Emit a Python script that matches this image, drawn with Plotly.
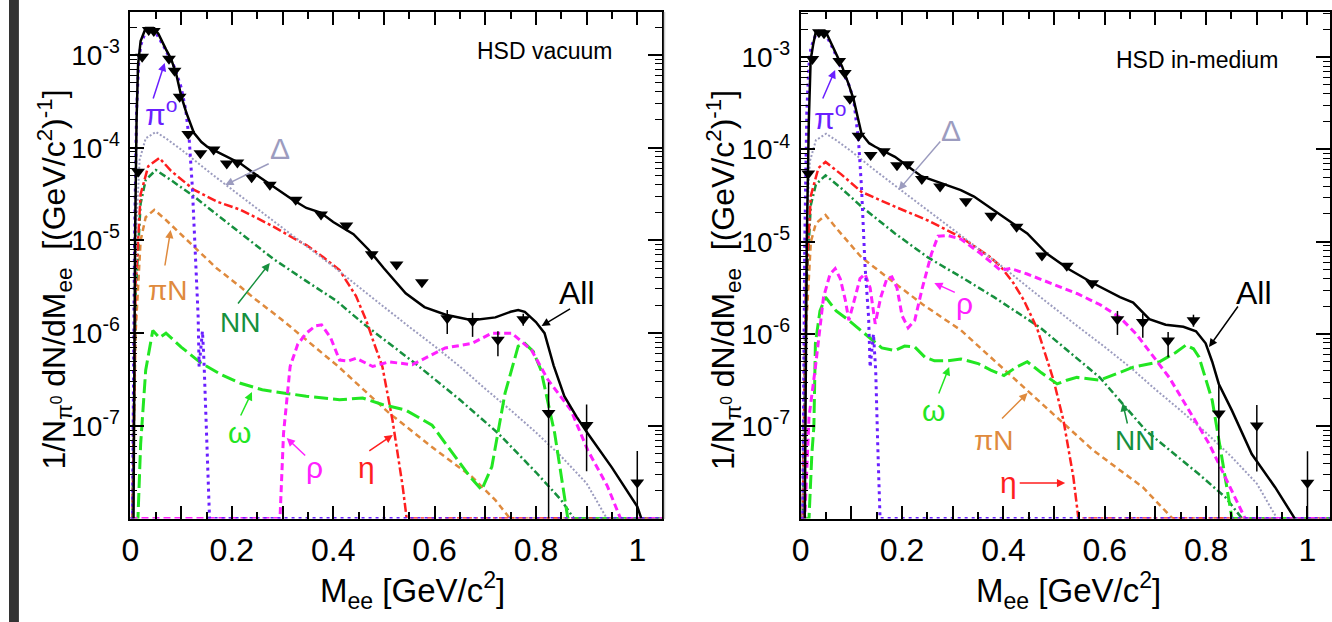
import plotly.graph_objects as go

W, H = 1332, 622

def px(x):
    return x / W

def py(y):
    return 1 - y / H

# ---------------- data: left panel (HSD vacuum) ----------------
all_vac_x = [0.006, 0.009, 0.012, 0.015, 0.02, 0.03, 0.045, 0.055, 0.07, 0.08, 0.09, 0.1, 0.11, 0.125, 0.14,
             0.152, 0.18, 0.217, 0.25, 0.282, 0.32, 0.347, 0.375, 0.40, 0.44, 0.47, 0.50, 0.543, 0.58, 0.622,
             0.674, 0.72, 0.75, 0.765, 0.778, 0.80, 0.817, 0.835, 0.856, 0.88, 0.902, 0.95, 1.0, 1.008]
all_vac_y = [1e-8, 1e-5, 2.0e-4, 7.94e-4, 1.41e-3, 1.95e-3, 1.95e-3, 1.70e-3, 1.15e-3, 9.12e-4, 6.31e-4, 3.63e-4,
             2.40e-4, 1.45e-4, 1.15e-4, 1.02e-4, 8.51e-5, 6.76e-5, 5.01e-5, 3.80e-5, 2.75e-5, 2.24e-5, 2.0e-5,
             1.58e-5, 1.17e-5, 7.94e-6, 5.01e-6, 2.69e-6, 1.91e-6, 1.58e-6, 1.38e-6, 1.48e-6, 1.70e-6, 1.78e-6,
             1.70e-6, 1.32e-6, 1.0e-6, 4.47e-7, 2.09e-7, 1.26e-7, 8.32e-8, 3.55e-8, 1.35e-8, 1e-8]

pi0_vac_x = [0, 0.004, 0.008, 0.012, 0.016, 0.02, 0.03, 0.04, 0.05, 0.065, 0.0865, 0.1, 0.109, 0.116, 0.122,
             0.129, 0.1335, 0.1354, 0.139, 0.142, 0.145, 0.148, 0.152, 0.156, 1.05]
pi0_vac_y = [1e-8, 1e-8, 1e-5, 2.51e-4, 7.94e-4, 1.26e-3, 1.82e-3, 1.91e-3, 1.74e-3, 1.26e-3, 7.41e-4, 4.47e-4,
             2.57e-4, 1.20e-4, 3.80e-5, 6.17e-6, 1.51e-6, 4.37e-7, 7.94e-7, 1.05e-6, 5.01e-7, 1.58e-7, 3.16e-8,
             1e-8, 1e-8]

delta_x = [0, 0.004, 0.008, 0.012, 0.018, 0.03, 0.05, 0.07, 0.1, 0.15, 0.2, 0.25, 0.3, 0.35, 0.4, 0.45, 0.5,
           0.55, 0.6, 0.65, 0.7, 0.75, 0.8, 0.85, 0.9, 0.94, 1.05]
delta_y = [1e-8, 1e-8, 1e-6, 1.58e-5, 7.41e-5, 1.26e-4, 1.48e-4, 1.26e-4, 9.55e-5, 5.75e-5, 3.55e-5, 2.19e-5,
           1.35e-5, 8.32e-6, 5.25e-6, 3.16e-6, 1.91e-6, 1.17e-6, 7.24e-7, 4.37e-7, 2.51e-7, 1.48e-7, 8.51e-8,
           4.68e-8, 2.40e-8, 1e-8, 1e-8]

eta_vac_x = [0, 0.004, 0.01, 0.02, 0.035, 0.057, 0.08, 0.1256, 0.17, 0.217, 0.25, 0.282, 0.32, 0.347, 0.38,
             0.4125, 0.445, 0.465, 0.48, 0.497, 0.517, 0.537, 0.545, 1.05]
eta_vac_y = [1e-8, 1e-8, 3.16e-6, 3.16e-5, 6.31e-5, 7.76e-5, 5.62e-5, 3.51e-5, 2.63e-5, 2.14e-5, 1.74e-5, 1.41e-5,
             1.07e-5, 8.91e-6, 6.61e-6, 4.79e-6, 2.51e-6, 1.38e-6, 7.94e-7, 4.37e-7, 1.15e-7, 2.24e-8, 1e-8, 1e-8]

nn_vac_x = [0, 0.004, 0.01, 0.02, 0.03, 0.05, 0.08, 0.1256, 0.17, 0.217, 0.282, 0.35, 0.406, 0.46, 0.5626, 0.65,
            0.7256, 0.8, 0.85, 0.875, 1.05]
nn_vac_y = [1e-8, 1e-8, 2.51e-6, 2.51e-5, 4.47e-5, 5.75e-5, 4.47e-5, 2.97e-5, 1.91e-5, 1.20e-5, 6.31e-6, 3.55e-6,
            2.24e-6, 1.26e-6, 4.68e-7, 1.91e-7, 8.32e-8, 3.16e-8, 1.58e-8, 1e-8, 1e-8]

pin_vac_x = [0, 0.004, 0.01, 0.02, 0.03, 0.047, 0.07, 0.1256, 0.17, 0.217, 0.243, 0.3, 0.347, 0.41, 0.51, 0.6,
             0.674, 0.72, 0.749, 1.05]
pin_vac_y = [1e-8, 1e-8, 1e-6, 1e-5, 1.78e-5, 2.14e-5, 1.66e-5, 8.57e-6, 5.01e-6, 3.16e-6, 2.40e-6, 1.38e-6,
             8.51e-7, 4.37e-7, 1.38e-7, 5.62e-8, 2.82e-8, 1.58e-8, 1e-8, 1e-8]

omega_vac_x = [0, 0.0147, 0.02, 0.03, 0.044, 0.057, 0.07, 0.1, 0.1386, 0.18, 0.217, 0.26, 0.308, 0.347, 0.4125,
               0.458, 0.497, 0.543, 0.595, 0.641, 0.67, 0.693, 0.713, 0.739, 0.765, 0.778, 0.795, 0.81, 0.837,
               0.863, 1.05]
omega_vac_y = [1e-8, 1e-8, 6.31e-8, 3.98e-7, 1.07e-6, 8.91e-7, 1.0e-6, 7.08e-7, 4.79e-7, 3.55e-7, 2.88e-7,
               2.45e-7, 2.24e-7, 2.09e-7, 1.91e-7, 2.0e-7, 1.70e-7, 1.48e-7, 1.02e-7, 4.68e-8, 2.82e-8, 2.04e-8,
               3.63e-8, 2.24e-7, 7.24e-7, 7.76e-7, 6.31e-7, 3.98e-7, 8.32e-8, 1e-8, 1e-8]

rho_vac_x = [0, 0.295, 0.302, 0.315, 0.33, 0.347, 0.365, 0.377, 0.395, 0.4125, 0.43, 0.445, 0.478, 0.51, 0.556,
             0.59, 0.621, 0.674, 0.713, 0.752, 0.791, 0.8235, 0.869, 0.902, 0.941, 0.967, 1.05]
rho_vac_y = [1e-8, 1e-8, 8.32e-8, 4.37e-7, 7.59e-7, 1.0e-6, 1.20e-6, 1.23e-6, 8.91e-7, 5.13e-7, 5.01e-7,
             5.37e-7, 4.37e-7, 4.90e-7, 4.57e-7, 5.62e-7, 6.92e-7, 7.76e-7, 1.0e-6, 1.0e-6, 6.61e-7, 3.16e-7,
             1.48e-7, 5.50e-8, 2.24e-8, 1e-8, 1e-8]

# ---------------- data: right panel (HSD in-medium) ----------------
all_med_x = [0.008, 0.012, 0.016, 0.0196, 0.025, 0.03, 0.049, 0.06, 0.0816, 0.095, 0.1045, 0.12, 0.135, 0.147,
             0.186, 0.238, 0.284, 0.316, 0.342, 0.3816, 0.447, 0.486, 0.53, 0.577, 0.63, 0.656, 0.688, 0.72,
             0.755, 0.78, 0.799, 0.812, 0.825, 0.851, 0.89, 0.936, 0.975]
all_med_y = [1e-8, 1e-5, 2.0e-4, 9.33e-4, 1.41e-3, 1.91e-3, 1.91e-3, 1.41e-3, 7.94e-4, 5.01e-4, 3.47e-4, 1.48e-4,
             1.17e-4, 1.07e-4, 8.32e-5, 5.13e-5, 4.17e-5, 3.63e-5, 3.09e-5, 2.19e-5, 1.23e-5, 7.41e-6, 5.01e-6,
             3.55e-6, 2.51e-6, 2.19e-6, 1.45e-6, 1.26e-6, 1.20e-6, 1.07e-6, 7.94e-7, 5.01e-7, 2.88e-7, 1.48e-7,
             5.01e-8, 2.19e-8, 1e-8]

pi0_med_x = [0, 0.004, 0.008, 0.012, 0.016, 0.02, 0.03, 0.036, 0.05, 0.065, 0.0816, 0.095, 0.1045, 0.114, 0.12,
             0.127, 0.134, 0.137, 0.1436, 0.148, 0.152, 0.1566, 1.05]
pi0_med_y = [1e-8, 1e-8, 1e-5, 2.51e-4, 7.94e-4, 1.26e-3, 1.78e-3, 1.91e-3, 1.74e-3, 1.20e-3, 7.24e-4, 5.01e-4,
             3.47e-4, 1.26e-4, 3.89e-5, 5.37e-6, 1.51e-6, 4.37e-7, 1.0e-6, 3.98e-7, 6.31e-8, 1e-8, 1e-8]

eta_med_x = [0, 0.004, 0.01, 0.02, 0.035, 0.049, 0.08, 0.12, 0.186, 0.251, 0.316, 0.375, 0.395, 0.42, 0.44,
             0.4665, 0.499, 0.5186, 0.538, 0.548, 1.05]
eta_med_y = [1e-8, 1e-8, 3.16e-6, 3.16e-5, 6.31e-5, 7.33e-5, 5.37e-5, 3.47e-5, 2.40e-5, 1.70e-5, 1.12e-5, 6.76e-6,
             5.37e-6, 3.55e-6, 2.34e-6, 1.15e-6, 3.16e-7, 1.15e-7, 2.82e-8, 1e-8, 1e-8]

nn_med_x = [0, 0.004, 0.01, 0.02, 0.03, 0.049, 0.08, 0.12, 0.186, 0.251, 0.316, 0.3816, 0.473, 0.59, 0.6818,
            0.786, 0.838, 0.871, 1.05]
nn_med_y = [1e-8, 1e-8, 2.51e-6, 2.51e-5, 4.17e-5, 5.25e-5, 3.80e-5, 2.40e-5, 1.23e-5, 6.76e-6, 4.17e-6, 2.51e-6,
            1.17e-6, 3.39e-7, 8.91e-8, 3.02e-8, 1.70e-8, 1e-8, 1e-8]

pin_med_x = [0, 0.004, 0.01, 0.02, 0.03, 0.049, 0.07, 0.12, 0.186, 0.241, 0.316, 0.375, 0.447, 0.577, 0.675,
             0.734, 1.05]
pin_med_y = [1e-8, 1e-8, 1e-6, 1e-5, 1.58e-5, 1.95e-5, 1.41e-5, 6.76e-6, 3.55e-6, 2.09e-6, 1.10e-6, 5.62e-7,
             2.45e-7, 5.50e-8, 2.19e-8, 1e-8, 1e-8]

omega_med_x = [0, 0.012, 0.0164, 0.022, 0.026, 0.029, 0.038, 0.049, 0.07, 0.0947, 0.134, 0.16, 0.186, 0.205,
               0.225, 0.245, 0.264, 0.29, 0.316, 0.35, 0.375, 0.401, 0.425, 0.447, 0.475, 0.506, 0.525, 0.545,
               0.59, 0.656, 0.708, 0.74, 0.76, 0.775, 0.786, 0.812, 0.832, 0.851, 1.05]
omega_med_y = [1e-8, 1e-8, 1e-8, 5.01e-8, 1e-7, 7.94e-7, 1.78e-6, 2.51e-6, 1.78e-6, 1.41e-6, 9.33e-7, 7.08e-7,
               6.61e-7, 7.41e-7, 7.24e-7, 5.62e-7, 5.13e-7, 5.13e-7, 5.37e-7, 4.79e-7, 4.07e-7, 3.55e-7,
               4.37e-7, 5.01e-7, 3.80e-7, 2.88e-7, 3.16e-7, 3.39e-7, 3.16e-7, 4.37e-7, 5.01e-7, 6.31e-7,
               7.59e-7, 6.92e-7, 5.62e-7, 1.91e-7, 4.27e-8, 1e-8, 1e-8]

rho_med_x = [0, 0.008, 0.0164, 0.029, 0.045, 0.058, 0.068, 0.078, 0.088, 0.095, 0.105, 0.117, 0.127, 0.137,
             0.147, 0.158, 0.17, 0.18, 0.19, 0.2, 0.212, 0.225, 0.24, 0.258, 0.271, 0.29, 0.316, 0.3556, 0.3947,
             0.414, 0.447, 0.4926, 0.545, 0.59, 0.63, 0.662, 0.727, 0.806, 0.838, 0.877, 1.05]
rho_med_y = [1e-8, 1e-8, 1.26e-7, 4.37e-7, 2.51e-6, 4.47e-6, 5.13e-6, 3.98e-6, 2.34e-6, 1.41e-6, 2.24e-6,
             3.98e-6, 4.47e-6, 3.16e-6, 1.29e-6, 2.51e-6, 3.98e-6, 4.17e-6, 3.16e-6, 1.58e-6, 1.17e-6, 1.41e-6,
             3.16e-6, 7.41e-6, 1.15e-5, 1.17e-5, 1.07e-5, 7.41e-6, 4.90e-6, 5.13e-6, 4.47e-6, 3.55e-6,
             2.75e-6, 2.09e-6, 1.51e-6, 1.0e-6, 3.39e-7, 6.46e-8, 2.82e-8, 1e-8, 1e-8]

# ---------------- experimental points (same in both panels) ----------------
data_x = [0.015, 0.023, 0.036, 0.046, 0.076, 0.087, 0.097, 0.114, 0.138, 0.164, 0.19, 0.211, 0.239, 0.275,
          0.326, 0.376, 0.426, 0.476, 0.525, 0.575, 0.625, 0.675, 0.725, 0.775, 0.825, 0.9, 1.0]
data_y = [5.50e-5, 9.55e-4, 1.86e-3, 1.82e-3, 9.12e-4, 6.76e-4, 3.55e-4, 1.41e-4, 8.71e-5, 9.55e-5, 6.76e-5,
          6.92e-5, 4.79e-5, 3.98e-5, 2.75e-5, 1.91e-5, 1.45e-5, 7.08e-6, 5.50e-6, 3.55e-6, 1.45e-6, 1.35e-6,
          8.51e-7, 1.41e-6, 1.38e-7, 1.02e-7, 2.45e-8]
data_hi = [5.50e-5, 9.55e-4, 1.86e-3, 1.82e-3, 9.12e-4, 6.76e-4, 3.55e-4, 1.41e-4, 8.71e-5, 9.55e-5, 6.76e-5,
           6.92e-5, 4.79e-5, 3.98e-5, 2.75e-5, 1.91e-5, 1.45e-5, 7.08e-6, 5.50e-6, 3.55e-6, 1.78e-6, 1.66e-6,
           1.05e-6, 1.62e-6, 2.95e-7, 1.70e-7, 5.37e-8]
data_lo = [5.50e-5, 9.55e-4, 1.86e-3, 1.82e-3, 9.12e-4, 6.76e-4, 3.55e-4, 1.41e-4, 8.71e-5, 9.55e-5, 6.76e-5,
           6.92e-5, 4.79e-5, 3.98e-5, 2.75e-5, 1.91e-5, 1.45e-5, 7.08e-6, 5.50e-6, 3.55e-6, 9.77e-7, 9.12e-7,
           5.62e-7, 1.20e-6, 1e-9, 3.24e-8, 1e-9]

x_tickvals = [0, 0.1, 0.2, 0.3, 0.4, 0.5, 0.6, 0.7, 0.8, 0.9, 1.0]
x_ticktext = ["0", "", "0.2", "", "0.4", "", "0.6", "", "0.8", "", "1"]
y_tickvals = [1e-7, 1e-6, 1e-5, 1e-4, 1e-3]
y_ticktext = ["10<sup>-7</sup>", "10<sup>-6</sup>", "10<sup>-5</sup>", "10<sup>-4</sup>", "10<sup>-3</sup>"]

C_PI0 = "#6a1fff"
C_DELTA = "#9c9cbf"
C_ETA = "#ff1f1f"
C_NN = "#16903e"
C_PIN = "#df8a3d"
C_OMEGA = "#22e622"
C_RHO = "#ff20ff"

FONT = "Liberation Sans, Arial, Helvetica, sans-serif"

fig = go.Figure()


def curve(x, y, color, width, dash, xa, ya):
    fig.add_trace(go.Scatter(x=x, y=y, mode="lines", xaxis=xa, yaxis=ya, hoverinfo="skip",
                             line=dict(color=color, width=width, dash=dash), showlegend=False))


panels = [
    ("x", "y", all_vac_x, all_vac_y, pi0_vac_x, pi0_vac_y, eta_vac_x, eta_vac_y, nn_vac_x, nn_vac_y,
     pin_vac_x, pin_vac_y, omega_vac_x, omega_vac_y, rho_vac_x, rho_vac_y),
    ("x2", "y2", all_med_x, all_med_y, pi0_med_x, pi0_med_y, eta_med_x, eta_med_y, nn_med_x, nn_med_y,
     pin_med_x, pin_med_y, omega_med_x, omega_med_y, rho_med_x, rho_med_y),
]

for (xa, ya, ax_, ay_, p0x, p0y, ex, ey, nx, ny, pnx, pny, ox, oy, rx, ry) in panels:
    curve(pnx, pny, C_PIN, 2.5, "6px,4px", xa, ya)
    curve(nx, ny, C_NN, 2.5, "7px,3px,2px,3px", xa, ya)
    curve(ex, ey, C_ETA, 2.5, "9px,3px,3px,3px", xa, ya)
    curve(delta_x, delta_y, C_DELTA, 2, "2px,2px", xa, ya)
    curve(ox, oy, C_OMEGA, 3, "14px,5px", xa, ya)
    curve(rx, ry, C_RHO, 3, "7px,4px", xa, ya)
    curve(p0x, p0y, C_PI0, 3, "3px,4px", xa, ya)
    curve(ax_, ay_, "black", 2.5, "solid", xa, ya)
    fig.add_trace(go.Scatter(
        x=data_x, y=data_y, mode="markers", xaxis=xa, yaxis=ya, hoverinfo="skip", showlegend=False,
        marker=dict(symbol="triangle-down", size=12, color="black"),
        error_y=dict(type="data", symmetric=False,
                     array=[h - v for h, v in zip(data_hi, data_y)],
                     arrayminus=[v - l for v, l in zip(data_y, data_lo)],
                     color="black", thickness=1.5, width=0)))

y_minor = [m * 10.0 ** e for e in range(-8, -2) for m in range(2, 10)]

xcommon = dict(showline=True, linecolor="black", linewidth=2, mirror="allticks", ticks="inside",
               ticklen=13, tickwidth=1.5, tickcolor="black", tickvals=x_tickvals, ticktext=x_ticktext,
               tickfont=dict(size=32, family=FONT, color="black"), showgrid=False, zeroline=False,
               ticklabelstandoff=2,
               minor=dict(ticks="inside", ticklen=7, tickwidth=1.5, tickcolor="black", dtick=0.05, tick0=0,
                          showgrid=False))
ycommon = dict(type="log", showline=True, linecolor="black", linewidth=2, mirror="allticks", ticks="inside",
               ticklen=14, tickwidth=1.5, tickcolor="black", tickvals=y_tickvals, ticktext=y_ticktext,
               tickfont=dict(size=28, family=FONT, color="black"), showgrid=False, zeroline=False,
               ticklabelstandoff=3,
               minor=dict(ticks="inside", ticklen=7, tickwidth=1.2, tickcolor="black", tickvals=y_minor,
                          showgrid=False))

ydom = [py(518.6), py(11.7)]
fig.update_layout(
    width=W, height=H, margin=dict(l=0, r=0, t=0, b=0),
    paper_bgcolor="white", plot_bgcolor="white", showlegend=False,
    font=dict(family=FONT, color="black"),
    xaxis=dict(domain=[px(122.5), px(658.3)], range=[0, 1.0485], anchor="y", **xcommon),
    yaxis=dict(domain=ydom, range=[-8, -2.533], anchor="x", **ycommon),
    xaxis2=dict(domain=[px(798.3), 1.0], range=[0, 1.0444], anchor="y2", **xcommon),
    yaxis2=dict(domain=ydom, range=[-8, -2.507], anchor="x2", **ycommon),
)

ann = []


def label(text, x, y, color, size, xanchor="center"):
    ann.append(dict(text=text, x=px(x), y=py(y), xref="paper", yref="paper", showarrow=False,
                    xanchor=xanchor, yanchor="middle", font=dict(size=size, color=color, family=FONT)))


def arrow(tx, ty, hx, hy, color):
    ann.append(dict(text="", x=px(hx), y=py(hy), xref="paper", yref="paper", ax=tx - hx, ay=ty - hy,
                    axref="pixel", ayref="pixel", showarrow=True, arrowhead=2, arrowsize=1.1,
                    arrowwidth=1.5, arrowcolor=color))


# left panel labels
label("HSD vacuum", 540, 51, "black", 23)
label("π<sup>o</sup>", 153, 112, C_PI0, 30)
arrow(145, 100, 157, 63, C_PI0)
label("Δ", 273, 148, C_DELTA, 30)
arrow(263, 163, 218, 185, C_DELTA)
label("πN", 160, 290, C_PIN, 28)
arrow(157, 267, 163, 230, C_PIN)
label("NN", 233, 322, C_NN, 28)
arrow(230, 305, 263, 263, C_NN)
label("ω", 232, 432, C_OMEGA, 30)
arrow(233, 417, 245, 392, C_OMEGA)
label("ρ", 308, 467, C_RHO, 30)
arrow(300, 457, 280, 438, C_RHO)
label("η", 360, 467, C_ETA, 30)
arrow(362, 452, 387, 435, C_ETA)
label("All", 573, 293, "black", 32)
arrow(567, 308, 537, 326, "black")

# right panel labels
label("HSD in-medium", 1198, 60, "black", 23)
label("π<sup>o</sup>", 828, 116, C_PI0, 30)
arrow(820, 100, 833, 70, C_PI0)
label("Δ", 950, 130, C_DELTA, 30)
arrow(940, 140, 897, 190, C_DELTA)
label("ρ", 963, 303, C_RHO, 30)
arrow(955, 293, 933, 283, C_RHO)
label("ω", 932, 410, C_OMEGA, 30)
arrow(937, 395, 948, 367, C_OMEGA)
label("πN", 993, 440, C_PIN, 28)
arrow(1000, 420, 1027, 393, C_PIN)
label("NN", 1135, 440, C_NN, 28)
arrow(1128, 425, 1123, 403, C_NN)
label("η", 1008, 482, C_ETA, 30)
arrow(1018, 483, 1065, 483, C_ETA)
label("All", 1255, 293, "black", 32)
arrow(1240, 305, 1210, 347, "black")

# axis titles
ytitle = "1/N<sub>π<sup>0</sup></sub> dN/dM<sub>ee</sub>  [(GeV/c<sup>2</sup>)<sup>-1</sup>]"
for xc in (46, 721):
    ann.append(dict(text=ytitle, x=px(xc), y=py(280), xref="paper", yref="paper", showarrow=False,
                    textangle=-90, xanchor="center", yanchor="middle",
                    font=dict(size=32, color="black", family=FONT)))
xtitle = "M<sub>ee</sub> [GeV/c<sup>2</sup>]"
for xc in (407, 1068):
    ann.append(dict(text=xtitle, x=px(xc), y=py(590), xref="paper", yref="paper", showarrow=False,
                    xanchor="center", yanchor="middle", font=dict(size=33, color="black", family=FONT)))

fig.update_layout(annotations=ann)

fig.update_layout(shapes=[
    dict(type="rect", xref="paper", yref="paper", x0=0, x1=px(10), y0=0, y1=1,
         fillcolor="#333333", line=dict(width=0)),
    dict(type="line", xref="paper", yref="paper", x0=px(661), x1=px(661), y0=py(519), y1=py(12),
         line=dict(color="#cccccc", width=1.5)),
])

fig.write_html("out.html")
